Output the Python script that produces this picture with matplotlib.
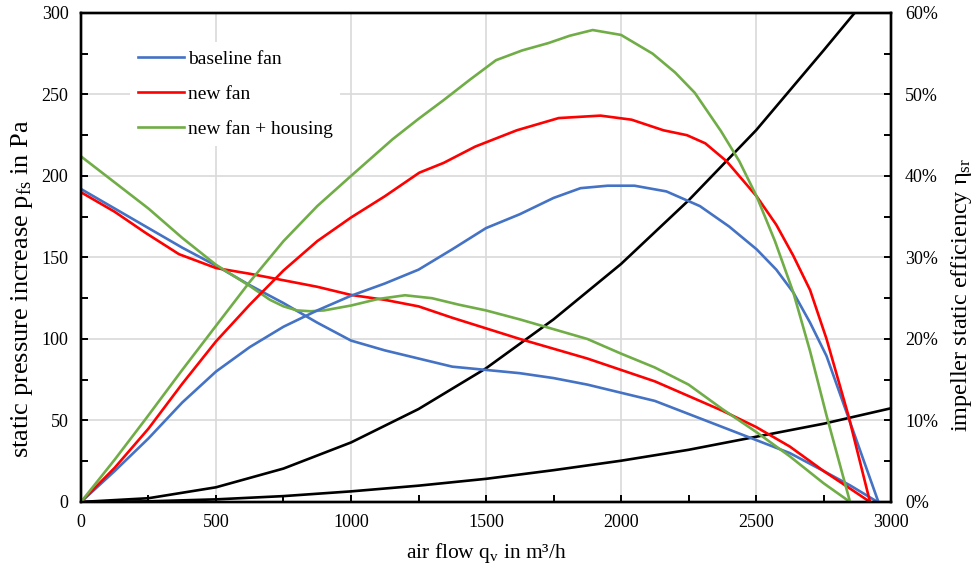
import numpy as np
import matplotlib
matplotlib.use('Agg')
import matplotlib.pyplot as plt
from matplotlib.ticker import MultipleLocator, FuncFormatter

plt.rcParams['font.family'] = ['Liberation Serif', 'DejaVu Serif']
plt.rcParams['mathtext.fontset'] = 'custom'
plt.rcParams['mathtext.rm'] = 'Liberation Serif'
plt.rcParams['mathtext.it'] = 'Liberation Serif:italic'

## values
# static pressure in Pa
base_p_x = [0, 125, 250, 375, 500, 625, 750, 875, 1000, 1125, 1250, 1375, 1500, 1625,
            1750, 1875, 2000, 2125, 2250, 2375, 2500, 2625, 2750, 2850, 2950]
base_p = [192, 180, 168, 156, 145, 133, 122, 110, 99, 93, 88, 83, 81, 79,
          76, 72, 67, 62, 54, 46, 38, 30, 19, 10, 0]

new_p_x = [0, 125, 240, 363, 500, 625, 750, 875, 1000, 1125, 1250, 1375, 1500, 1625,
           1750, 1875, 2000, 2125, 2250, 2375, 2500, 2625, 2750, 2850, 2922]
new_p = [190, 178, 165, 152, 143.5, 140, 136, 132, 127, 124, 120, 113, 106.5, 100,
         94, 88, 81, 74, 65, 56, 46, 34, 19, 8, 0]

hous_p_x = [0, 125, 250, 375, 500, 625, 700, 750, 800, 850, 900, 1000, 1100, 1200, 1300, 1400, 1500,
            1625, 1750, 1875, 2000, 2125, 2250, 2375, 2500, 2625, 2750, 2848]
hous_p = [212, 196, 180, 162, 145.5, 132.5, 124, 120, 117.5, 117, 117.5, 120.5, 124.5, 126.8, 125, 121, 117.5,
          112, 106, 100, 91, 82.5, 72, 57, 43, 28, 11.5, 0]

# impeller static efficiency in %
base_e_x = [0, 125, 250, 375, 500, 625, 750, 875, 1000, 1125, 1250, 1375, 1500, 1625,
            1750, 1850, 1950, 2050, 2168, 2292, 2400, 2502, 2575, 2638, 2700, 2761, 2848, 2953]
base_e = [0, 3.8, 7.8, 12.2, 16, 19, 21.5, 23.5, 25.3, 26.8, 28.5, 31, 33.6, 35.3,
          37.3, 38.5, 38.8, 38.8, 38.1, 36.3, 33.8, 31, 28.5, 25.7, 22, 17.9, 9.8, 0]

new_e_x = [0, 125, 250, 375, 500, 625, 750, 875, 1000, 1125, 1253, 1343, 1460, 1614,
           1769, 1924, 2039, 2157, 2244, 2312, 2391, 2502, 2575, 2638, 2700, 2761, 2842, 2922]
new_e = [0, 4.2, 9, 14.5, 19.7, 24.2, 28.4, 32, 34.9, 37.5, 40.4, 41.6, 43.6, 45.6,
         47.1, 47.4, 46.9, 45.6, 45, 44, 41.8, 37.5, 34, 30.2, 26, 20, 10.6, 0]

hous_e_x = [0, 125, 240, 375, 509, 625, 750, 875, 1000, 1154, 1250, 1343, 1440, 1537, 1634,
            1731, 1810, 1895, 2000, 2117, 2200, 2273, 2370, 2438, 2502, 2570, 2638, 2700, 2761, 2848]
hous_e = [0, 5.2, 10.2, 16.2, 22.0, 27, 32, 36.3, 40, 44.5, 47, 49.3, 51.8, 54.2, 55.4,
          56.3, 57.2, 57.9, 57.3, 55, 52.7, 50.2, 45.5, 41.8, 37.5, 32, 25.7, 18.5, 10.6, 0]

# system curves in Pa
sys1_x = [0, 250, 500, 750, 1000, 1250, 1500, 1750, 2000, 2250, 2500, 2750, 2865]
sys1_p = [0, 2.3, 9, 20.5, 36.5, 57, 82, 112, 146, 185, 228, 277, 300]
sys2_x = [0, 250, 500, 750, 1000, 1250, 1500, 1750, 2000, 2250, 2500, 2750, 3000]
sys2_p = [0, 0.4, 1.6, 3.6, 6.5, 10, 14.2, 19.5, 25.3, 32, 40, 48, 57.5]

c_blue = '#4472C4'
c_red = '#FF0000'
c_green = '#70AD47'
lw = 1.9

fig = plt.figure(figsize=(9.79, 5.69), dpi=100)
ax = fig.add_axes([0.0827, 0.1178, 0.8275, 0.8595])
ax2 = ax.twinx()

ax.plot(sys1_x, sys1_p, color='black', lw=lw)
ax.plot(sys2_x, sys2_p, color='black', lw=lw)
ax.plot(base_p_x, base_p, color=c_blue, lw=lw)
ax.plot(new_p_x, new_p, color=c_red, lw=lw)
ax.plot(hous_p_x, hous_p, color=c_green, lw=lw)

ax2.plot(base_e_x, np.array(base_e) / 100, color=c_blue, lw=lw, label='baseline fan')
ax2.plot(new_e_x, np.array(new_e) / 100, color=c_red, lw=lw, label='new fan')
ax2.plot(hous_e_x, np.array(hous_e) / 100, color=c_green, lw=lw, label='new fan + housing')

ax.set_xlim(0, 3000)
ax.set_ylim(0, 300)
ax2.set_ylim(0, 0.6)

ax.xaxis.set_major_locator(MultipleLocator(500))
ax.xaxis.set_minor_locator(MultipleLocator(250))
ax.yaxis.set_major_locator(MultipleLocator(50))
ax.yaxis.set_minor_locator(MultipleLocator(25))
ax2.yaxis.set_major_locator(MultipleLocator(0.1))
ax2.yaxis.set_minor_locator(MultipleLocator(0.05))
ax2.yaxis.set_major_formatter(FuncFormatter(lambda v, pos: '%d%%' % round(v * 100)))

ax.grid(True, which='major', color='#d9d9d9', lw=1.2)
ax.set_axisbelow(True)

for a in (ax, ax2):
    for s in a.spines.values():
        s.set_linewidth(1.7)
        s.set_color('black')
ax.tick_params(which='both', direction='in', labelsize=13, top=False, right=False, width=1.4)
ax.tick_params(which='major', length=5, pad=9)
ax.tick_params(which='minor', length=5)
ax2.tick_params(which='both', direction='in', labelsize=13, width=1.4)
ax2.tick_params(which='major', length=5, pad=10)
ax2.tick_params(which='minor', length=5)

ax.set_xlabel('air flow q$_\\mathrm{v}$ in m³/h', fontsize=15.5, labelpad=7)
ax.set_ylabel('static pressure increase p$_\\mathrm{fs}$ in Pa', fontsize=19)
ax2.set_ylabel('impeller static efficiency η$_\\mathrm{sr}$', fontsize=17.5)
ax.yaxis.set_label_coords(-0.057, 0.436)
ax2.yaxis.set_label_coords(1.071, 0.424)

leg = ax2.legend(loc='upper left', bbox_to_anchor=(0.049, 0.96), fontsize=14,
                 frameon=True, fancybox=False, edgecolor='white', framealpha=1,
                 handlelength=2.35, handletextpad=0.2, labelspacing=0.9, borderpad=0.4)
leg.get_frame().set_linewidth(0)

fig.savefig('out.png', dpi=100)
